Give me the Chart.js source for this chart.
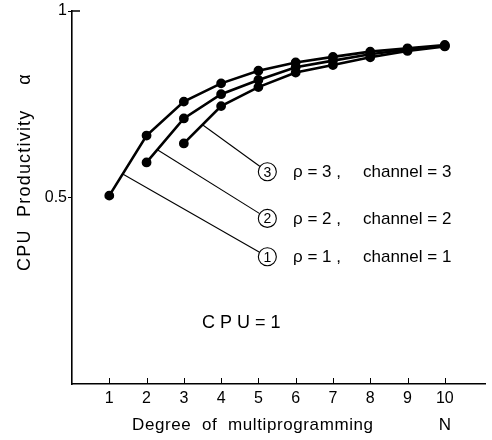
<!DOCTYPE html>
<html>
<head>
<meta charset="utf-8">
<script src="https://cdn.jsdelivr.net/npm/chart.js@4.4.0/dist/chart.umd.min.js"></script>
<style>
  html, body { margin: 0; padding: 0; background: #fff; }
  #wrap { width: 492px; height: 440px; }
</style>
</head>
<body>
<div id="wrap"><canvas id="prodChart" width="492" height="440"></canvas></div>
<script>
// degree of multiprogramming N
var degrees = [1, 2, 3, 4, 5, 6, 7, 8, 9, 10];
// CPU productivity alpha, one list per case (null = no point for that N)
var alphaCase1 = [0.505, 0.666, 0.757, 0.806, 0.840, 0.862, 0.877, 0.891, 0.900, 0.909];
var alphaCase2 = [null, 0.594, 0.712, 0.777, 0.815, 0.849, 0.867, 0.884, 0.897, 0.907];
var alphaCase3 = [null, null, 0.645, 0.745, 0.796, 0.835, 0.855, 0.876, 0.893, 0.905];
var caseRho = ['ρ = 1 ,', 'ρ = 2 ,', 'ρ = 3 ,'];
var caseChannel = ['channel = 1', 'channel = 2', 'channel = 3'];
var caseMarks = ['1', '2', '3'];
var yTickValues = [0.5, 1];
var yTickLabels = ['0.5', '1'];

var FONT = "'Liberation Sans', 'DejaVu Sans', sans-serif";

function toPoints(vals) {
    var pts = [];
    for (var i = 0; i < degrees.length; i++) {
        if (vals[i] !== null) pts.push({ x: degrees[i], y: vals[i] });
    }
    return pts;
}

// y on a curve between its points, for where a leader line starts
function curveY(vals, x) {
    var i = Math.floor(x) - 1;
    var t = x - Math.floor(x);
    return vals[i] + (vals[i + 1] - vals[i]) * t;
}

function makeSet(vals) {
    return {
        data: toPoints(vals),
        borderColor: '#000',
        backgroundColor: '#000',
        borderWidth: 2.6,
        pointRadius: 3.6,
        pointHoverRadius: 3.6,
        tension: 0
    };
}

// leader lines, numbered circles, captions, axis titles and inward x ticks
var notesPlugin = {
    id: 'notes',
    afterDraw: function(chart) {
        var ctx = chart.ctx;
        var xs = chart.scales.x;
        var ys = chart.scales.y;
        var px = function(v) { return xs.getPixelForValue(v); };
        var py = function(v) { return ys.getPixelForValue(v); };
        ctx.save();

        // small ticks pointing up from the x axis
        ctx.strokeStyle = '#000';
        ctx.lineWidth = 1;
        degrees.forEach(function(d) {
            var x = Math.round(px(d)) + 0.5;
            ctx.beginPath();
            ctx.moveTo(x, ys.bottom);
            ctx.lineTo(x, ys.bottom - 6);
            ctx.stroke();
        });
        // short stroke at the top of the y axis
        ctx.lineWidth = 1.5;
        ctx.beginPath();
        ctx.moveTo(xs.left, ys.top);
        ctx.lineTo(xs.left + 8, ys.top);
        ctx.stroke();

        var curves = [alphaCase1, alphaCase2, alphaCase3];
        var leaderX = [1.36, 2.29, 3.5];
        var rowY = [0.341, 0.444, 0.569];
        var circleX = 5.24;
        ctx.lineWidth = 1.1;
        for (var k = 0; k < 3; k++) {
            var sx = px(leaderX[k]);
            var sy = py(curveY(curves[k], leaderX[k]));
            var cx = px(circleX);
            var cy = py(rowY[k]);
            var r = 9;
            var ang = Math.atan2(cy - sy, cx - sx);
            ctx.beginPath();
            ctx.moveTo(sx, sy);
            ctx.lineTo(cx - r * Math.cos(ang), cy - r * Math.sin(ang));
            ctx.stroke();
            ctx.beginPath();
            ctx.arc(cx, cy, r, 0, Math.PI * 2);
            ctx.stroke();

            ctx.fillStyle = '#000';
            ctx.font = '14px ' + FONT;
            ctx.textAlign = 'center';
            ctx.textBaseline = 'middle';
            ctx.fillText(caseMarks[k], cx, cy + 1);

            ctx.font = '17px ' + FONT;
            ctx.textAlign = 'left';
            ctx.fillText(caseRho[k], 293, cy + 1);
            ctx.fillText(caseChannel[k], 363, cy + 1);
        }

        // CPU = 1 caption
        ctx.font = '18px ' + FONT;
        ctx.textAlign = 'left';
        ctx.textBaseline = 'middle';
        ctx.letterSpacing = '5px';
        ctx.fillText('CPU=1', 202, 323);

        // x axis title
        ctx.font = '17px ' + FONT;
        ctx.letterSpacing = '0.6px';
        ctx.fillText('Degree  of  multiprogramming', 132, 425);
        ctx.textAlign = 'center';
        ctx.letterSpacing = '0px';
        ctx.fillText('N', px(10), 425);

        // y axis title, rotated
        ctx.translate(25, 172);
        ctx.rotate(-Math.PI / 2);
        ctx.font = '18px ' + FONT;
        ctx.letterSpacing = '1.2px';
        ctx.textAlign = 'center';
        ctx.fillText('CPU  Productivity    α', 0, 0);
        ctx.restore();
    }
};

var ctx = document.getElementById('prodChart').getContext('2d');
new Chart(ctx, {
    type: 'line',
    data: {
        datasets: [makeSet(alphaCase1), makeSet(alphaCase2), makeSet(alphaCase3)]
    },
    options: {
        responsive: false,
        animation: false,
        layout: { padding: { top: 11, right: 5, left: 0, bottom: 0 } },
        plugins: {
            legend: { display: false },
            tooltip: { enabled: false }
        },
        scales: {
            x: {
                type: 'linear',
                min: 0,
                max: 11.1,
                afterFit: function(scale) { scale.height = 56; },
                afterBuildTicks: function(scale) {
                    scale.ticks = degrees.map(function(d) { return { value: d }; });
                },
                grid: { display: false, drawTicks: false },
                border: { display: true, color: '#000', width: 1.6 },
                ticks: {
                    padding: 5,
                    color: '#000',
                    font: { family: FONT, size: 16 },
                    callback: function(v) { return String(v); }
                }
            },
            y: {
                min: 0,
                max: 1,
                afterFit: function(scale) { scale.width = 72; },
                afterBuildTicks: function(scale) {
                    scale.ticks = yTickValues.map(function(v) { return { value: v }; });
                },
                grid: { display: true, drawOnChartArea: false, tickLength: 4, color: '#000' },
                border: { display: true, color: '#000', width: 1.6 },
                ticks: {
                    padding: 1,
                    color: '#000',
                    font: { family: FONT, size: 16 },
                    callback: function(v) {
                        var i = yTickValues.indexOf(v);
                        return i >= 0 ? yTickLabels[i] : '';
                    }
                }
            }
        }
    },
    plugins: [notesPlugin]
});
</script>
</body>
</html>
